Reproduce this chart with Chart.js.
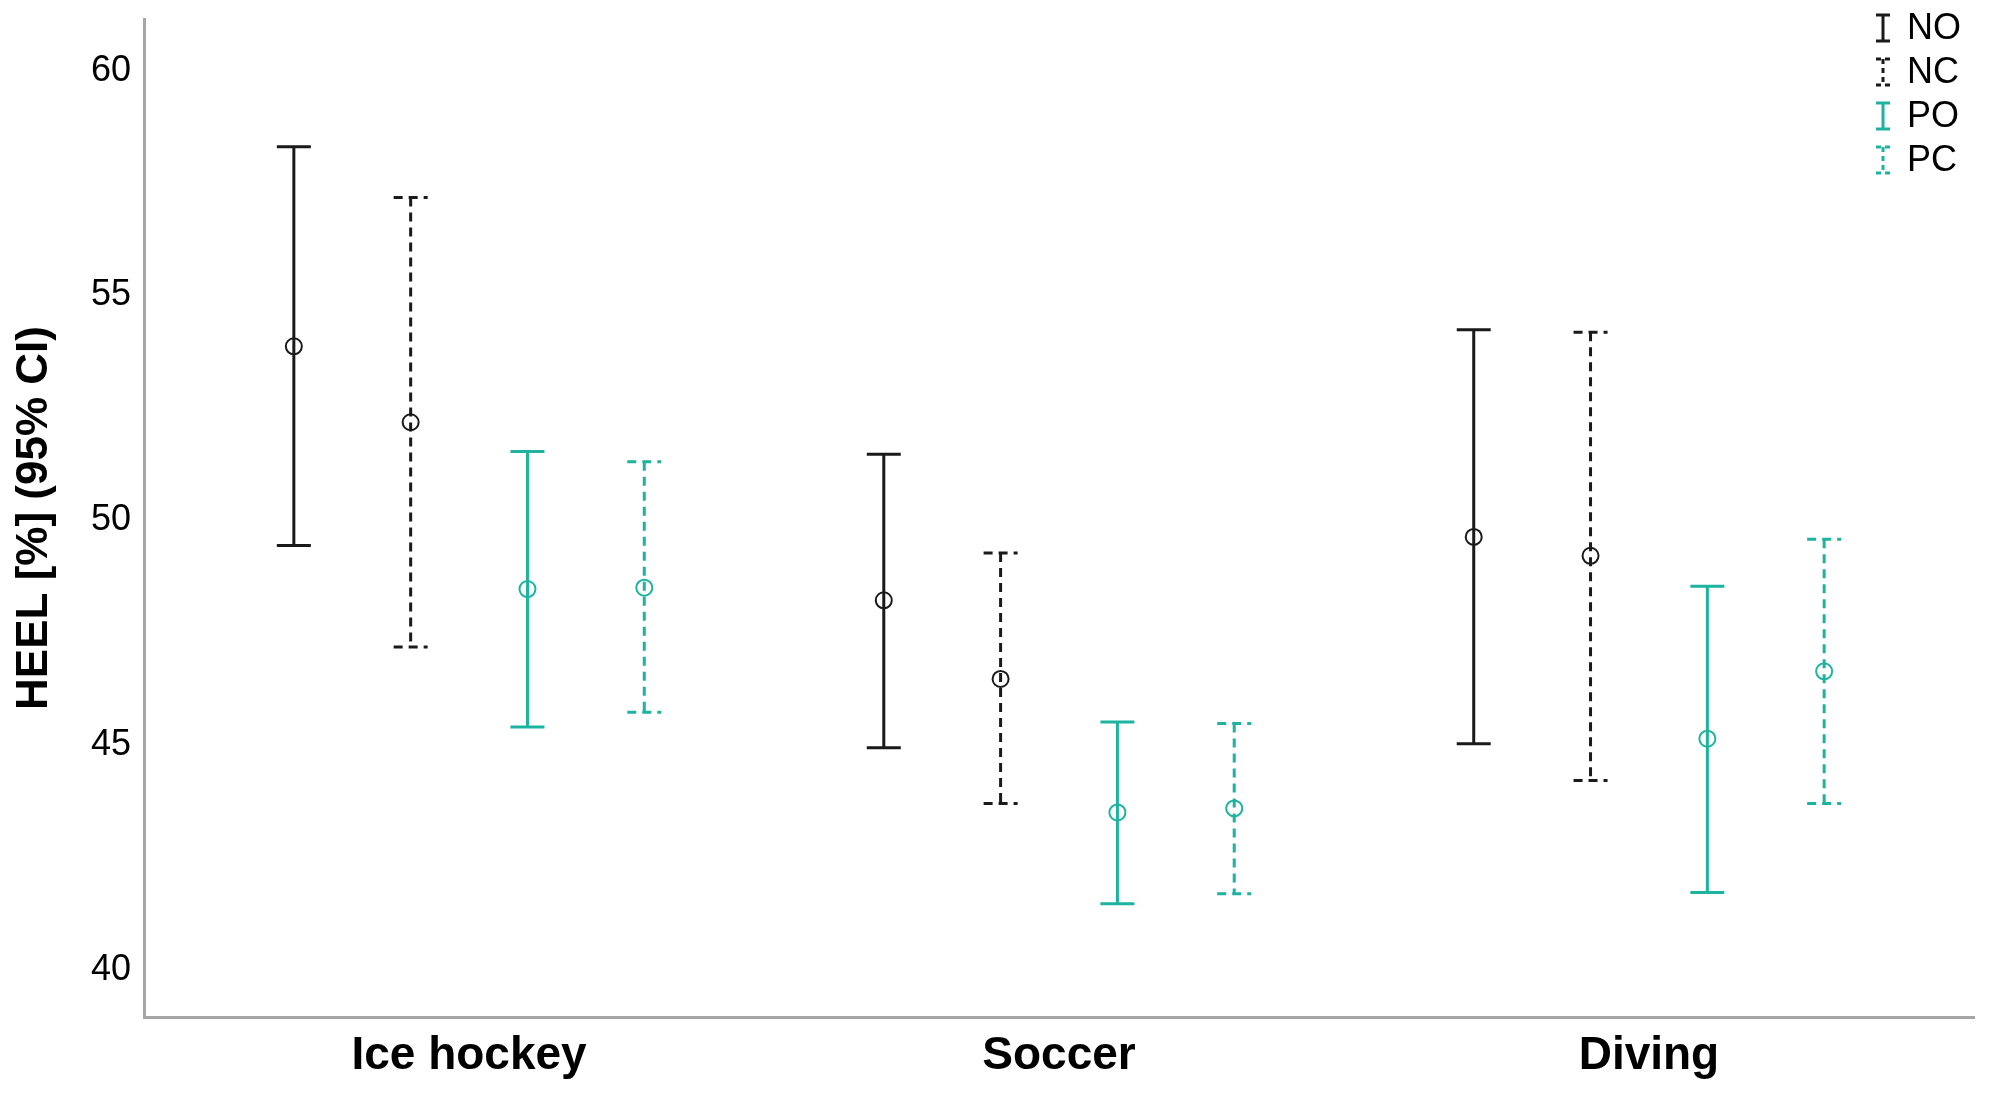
<!DOCTYPE html>
<html>
<head>
<meta charset="utf-8">
<script src="https://cdn.jsdelivr.net/npm/chart.js@4.4.1/dist/chart.umd.min.js"></script>
<style>
  html, body { margin: 0; padding: 0; background: #fff; }
  canvas { display: block; }
</style>
</head>
<body>
<canvas id="heelChart" width="1993" height="1095"></canvas>
<script>
const categories = ['Ice hockey', 'Soccer', 'Diving'];
const yTicks = [40, 45, 50, 55, 60];

// mean and 95% CI per group
const noMean  = [53.87, 48.22, 49.63];
const noLower = [49.44, 44.94, 45.03];
const noUpper = [58.31, 51.47, 54.24];

const ncMean  = [52.18, 46.47, 49.21];
const ncLower = [47.18, 43.70, 44.21];
const ncUpper = [57.18, 49.27, 54.18];

const poMean  = [48.47, 43.50, 45.14];
const poLower = [45.40, 41.47, 41.72];
const poUpper = [51.53, 45.51, 48.53];

const pcMean  = [48.50, 43.59, 46.64];
const pcLower = [45.73, 41.69, 43.70];
const pcUpper = [51.30, 45.48, 49.58];

const BLACK = '#1a1a1a';
const TEAL = '#1db39f';
const FONT = "'Liberation Sans', Arial, sans-serif";

const series = [
    { label: 'NO', mean: noMean, lower: noLower, upper: noUpper, color: BLACK, dash: [],      shift: -0.297 },
    { label: 'NC', mean: ncMean, lower: ncLower, upper: ncUpper, color: BLACK, dash: [9, 6],  shift: -0.099 },
    { label: 'PO', mean: poMean, lower: poLower, upper: poUpper, color: TEAL,  dash: [],      shift: 0.099 },
    { label: 'PC', mean: pcMean, lower: pcLower, upper: pcUpper, color: TEAL,  dash: [9, 6],  shift: 0.297 },
];

// whiskers for every point, drawn under the circles
const errorBars = {
    id: 'errorBars',
    beforeDatasetsDraw(chart) {
        const ctx = chart.ctx;
        const x = chart.scales.x, y = chart.scales.y;
        ctx.save();
        series.forEach(s => {
            ctx.strokeStyle = s.color;
            ctx.lineWidth = 3;
            ctx.setLineDash(s.dash);
            s.mean.forEach((m, i) => {
                const px = x.getPixelForValue(i + 1 + s.shift);
                const top = y.getPixelForValue(s.upper[i]);
                const bot = y.getPixelForValue(s.lower[i]);
                ctx.beginPath();
                ctx.moveTo(px, top);
                ctx.lineTo(px, bot);
                ctx.moveTo(px - 17, top);
                ctx.lineTo(px + 17, top);
                ctx.moveTo(px - 17, bot);
                ctx.lineTo(px + 17, bot);
                ctx.stroke();
            });
        });
        ctx.restore();
    }
};

// legend in the top right corner, inside the plot
const cornerLegend = {
    id: 'cornerLegend',
    afterDraw(chart) {
        const ctx = chart.ctx;
        ctx.save();
        ctx.font = '36px ' + FONT;
        ctx.textBaseline = 'middle';
        ctx.textAlign = 'left';
        series.forEach((s, k) => {
            const cy = 28 + k * 44;
            const sx = 1883;
            ctx.strokeStyle = s.color;
            ctx.lineWidth = 3;
            ctx.setLineDash(s.dash.length ? [5, 4] : []);
            ctx.beginPath();
            ctx.moveTo(sx, cy - 13);
            ctx.lineTo(sx, cy + 13);
            ctx.moveTo(sx - 7, cy - 13);
            ctx.lineTo(sx + 7, cy - 13);
            ctx.moveTo(sx - 7, cy + 13);
            ctx.lineTo(sx + 7, cy + 13);
            ctx.stroke();
            ctx.setLineDash([]);
            ctx.fillStyle = '#000';
            ctx.fillText(s.label, 1907, cy + 1);
        });
        ctx.restore();
    }
};

function noScalePadding(axis) {
    axis.paddingTop = 0;
    axis.paddingBottom = 0;
    axis.paddingLeft = 0;
    axis.paddingRight = 0;
}

new Chart(document.getElementById('heelChart'), {
    type: 'scatter',
    data: {
        datasets: series.map(s => ({
            label: s.label,
            data: s.mean.map((m, i) => ({ x: i + 1 + s.shift, y: m })),
            pointStyle: 'circle',
            pointRadius: 8,
            pointBorderWidth: 2,
            borderColor: s.color,
            pointBackgroundColor: 'rgba(0,0,0,0)',
            showLine: false,
        }))
    },
    options: {
        responsive: false,
        animation: false,
        devicePixelRatio: 1,
        layout: { padding: { top: 19, right: 19, left: 0, bottom: 0 } },
        plugins: {
            legend: { display: false },
            tooltip: { enabled: false }
        },
        scales: {
            x: {
                type: 'linear',
                min: 0.449,
                max: 3.551,
                grid: { display: false, drawTicks: false },
                border: { display: true, color: '#a6a6a6', width: 3 },
                afterBuildTicks: (axis) => { axis.ticks = categories.map((c, i) => ({ value: i + 1 })); },
                afterFit: (axis) => { axis.height = 78; noScalePadding(axis); },
                ticks: {
                    autoSkip: false,
                    maxRotation: 0,
                    padding: 12,
                    color: '#000',
                    font: { family: FONT, size: 46, weight: 'bold' },
                    callback: (v) => categories[Math.round(v) - 1]
                }
            },
            y: {
                min: 38.95,
                max: 61.15,
                grid: { display: false, drawTicks: false },
                border: { display: true, color: '#a6a6a6', width: 3 },
                afterBuildTicks: (axis) => { axis.ticks = yTicks.map(v => ({ value: v })); },
                afterFit: (axis) => { axis.width = 144; noScalePadding(axis); },
                ticks: {
                    padding: 13,
                    color: '#000',
                    font: { family: FONT, size: 36 }
                },
                title: {
                    display: true,
                    text: 'HEEL [%] (95% CI)',
                    color: '#000',
                    padding: { top: 8, bottom: 0 },
                    font: { family: FONT, size: 44, weight: 'bold' }
                }
            }
        }
    },
    plugins: [errorBars, cornerLegend]
});
</script>
</body>
</html>
